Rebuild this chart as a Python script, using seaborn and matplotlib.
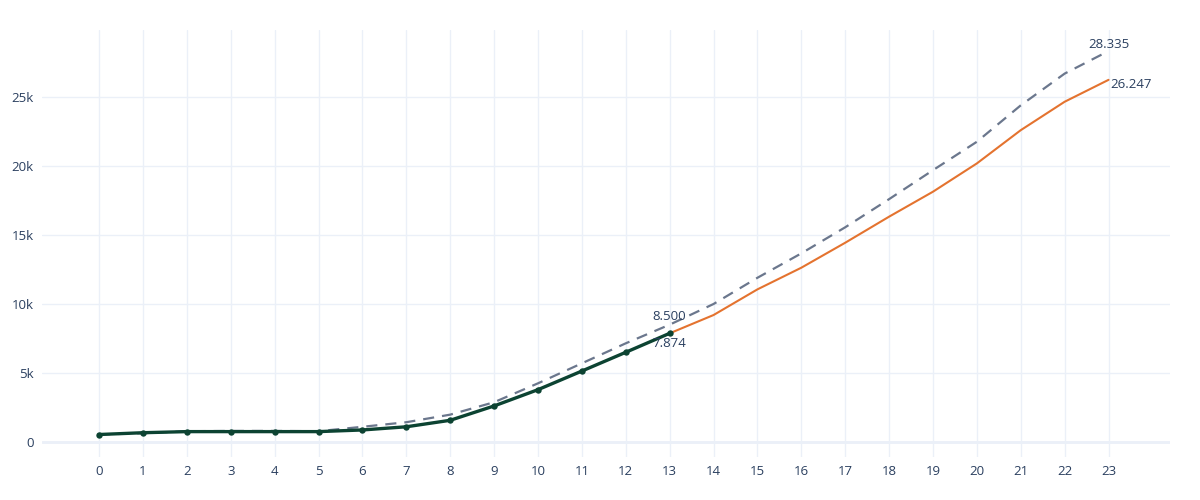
import numpy as np
import pandas as pd
import matplotlib
matplotlib.use("Agg")
import matplotlib.pyplot as plt
import seaborn as sns

# ========= Data =========
months = list(range(24))
target = [540, 630, 780, 800, 800, 780, 1100, 1430, 1980, 2880, 4250, 5700, 7150, 8500,
          10000, 11900, 13670, 15560, 17600, 19700, 21760, 24400, 26700, 28335]
actual_x = list(range(14))
actual = [540, 670, 750, 750, 750, 750, 870, 1100, 1570, 2610, 3790, 5140, 6500, 7874]
forecast_x = list(range(13, 24))
forecast = [7874, 9200, 11060, 12630, 14440, 16330, 18140, 20190, 22600, 24660, 26247]

text_col = "#2a3f5f"
grid_col = "#ebf0f8"

# ========= Plot =========
sns.set_theme(style="white")
plt.rcParams["font.family"] = ["Open Sans", "DejaVu Sans"]

fig = plt.figure(figsize=(12, 5), dpi=100)
ax = fig.add_axes([42 / 1200, 43 / 500, (1170 - 42) / 1200, (470 - 43) / 500])

sns.lineplot(x=months, y=target, ax=ax, color="#6b778d", linewidth=1.6)
ax.lines[-1].set_dashes([5, 3.6])
sns.lineplot(x=forecast_x, y=forecast, ax=ax, color="#e4732f", linewidth=1.5)
sns.lineplot(x=actual_x, y=actual, ax=ax, color="#0c4332", linewidth=2.4,
             marker="o", markersize=4.6, markeredgewidth=0)

# value labels
fmt = lambda v: f"{v / 1000:.3f}"
ax.annotate(fmt(target[13]), (13, target[13]), xytext=(0, 1), textcoords="offset points",
            ha="center", va="bottom", color=text_col, fontsize=9.5)
ax.annotate(fmt(actual[-1]), (13, actual[-1]), xytext=(0, -3), textcoords="offset points",
            ha="center", va="top", color=text_col, fontsize=9.5)
ax.annotate(fmt(target[-1]), (23, target[-1]), xytext=(0, 0), textcoords="offset points",
            ha="center", va="bottom", color=text_col, fontsize=9.5)
ax.annotate(fmt(forecast[-1]), (23, forecast[-1]), xytext=(1, -3.5), textcoords="offset points",
            ha="left", va="center", color=text_col, fontsize=9.5)

ax.set_xlim(-1.3, 24.4)
ax.set_ylim(-1090, 29860)
ax.set_xticks(months)
ax.set_yticks([0, 5000, 10000, 15000, 20000, 25000])
ax.set_yticklabels(["0", "5k", "10k", "15k", "20k", "25k"])
ax.grid(True, color=grid_col, linewidth=1)
ax.axhline(0, color=grid_col, linewidth=2, zorder=0)
ax.set_axisbelow(True)
for s in ax.spines.values():
    s.set_visible(False)
ax.tick_params(axis="both", length=0, colors=text_col, labelsize=9.5, pad=6)
ax.set_xlabel("")
ax.set_ylabel("")

fig.savefig("out.png", dpi=100, facecolor="white")
